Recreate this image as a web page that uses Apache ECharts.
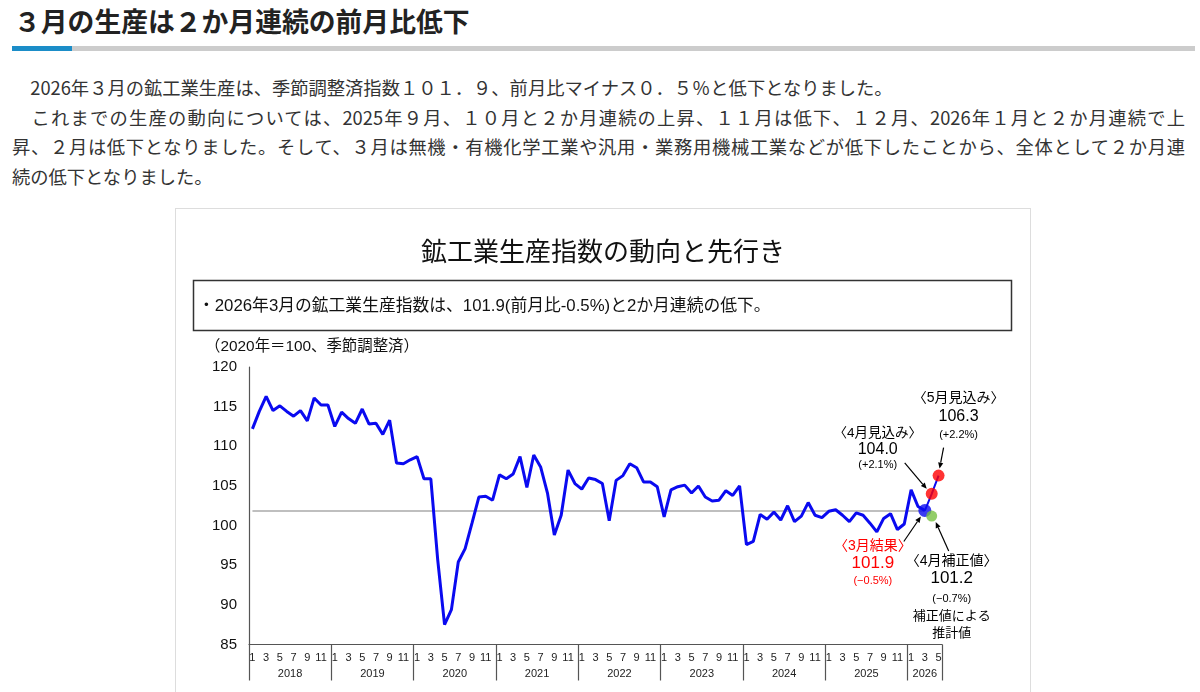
<!DOCTYPE html>
<html lang="ja">
<head>
<meta charset="utf-8">
<script src="https://cdn.jsdelivr.net/npm/echarts@6/dist/echarts.min.js"></script>
<style>
  body { margin:0; background:#fff; font-family:"Noto Sans CJK JP", sans-serif; }
  .ttl { position:absolute; left:14px; top:6px; margin:0; font-size:26.8px; line-height:30px; font-weight:bold; color:#222; }
  .bar { position:absolute; left:12px; top:46px; width:1183px; height:5px; background:#cccccc; }
  .bar i { position:absolute; left:0; top:0; width:60px; height:5px; background:#1b8dc8; }
  .txt { position:absolute; left:12px; top:73px; width:1173px; font-size:18.3px; line-height:29.5px; color:#333; }
  .txt div { white-space:nowrap; }
  .txt .j { text-align:justify; text-align-last:justify; white-space:normal; }
  .box { position:absolute; left:175px; top:208px; width:854px; height:520px; border:1px solid #dddddd; }
  #clientpic { position:absolute; left:0; top:0; width:1200px; height:692px; }
</style>
</head>
<body>
<h2 class="ttl">３月の生産は２か月連続の前月比低下</h2>
<div class="bar"><i></i></div>
<div class="txt">
  <div>　2026年３月の鉱工業生産は、季節調整済指数１０１．９、前月比マイナス０．５％と低下となりました。</div>
  <div class="j">　これまでの生産の動向については、2025年９月、１０月と２か月連続の上昇、１１月は低下、１２月、2026年１月と２か月連続で上</div>
  <div class="j">昇、２月は低下となりました。そして、３月は無機・有機化学工業や汎用・業務用機械工業などが低下したことから、全体として２か月連</div>
  <div>続の低下となりました。</div>
</div>
<div class="box"></div>
<div id="clientpic"></div>
<script type="text/javascript">
// 鉱工業生産指数（2020年=100、季節調整済）
var years = [2018, 2019, 2020, 2021, 2022, 2023, 2024, 2025, 2026];
var monthsInYear = [12, 12, 12, 12, 12, 12, 12, 12, 5];
var iip = [
  112.2, 114.4, 116.3, 114.5, 115.1, 114.4, 113.8, 114.5, 113.2, 116.1, 115.2, 115.2,
  112.5, 114.3, 113.5, 112.9, 114.7, 112.8, 112.9, 111.5, 113.3, 107.9, 107.8, 108.3,
  108.7, 105.9, 105.9, 95.7, 87.5, 89.4, 95.4, 97.1, 100.3, 103.6, 103.7, 103.2,
  106.4, 105.9, 106.5, 108.7, 104.8, 108.9, 107.4, 104.1, 98.8, 101.3, 107.0, 105.3,
  104.6, 106.0, 105.8, 105.3, 100.6, 105.7, 106.3, 107.8, 107.3, 105.5, 105.5, 104.9,
  101.1, 104.5, 104.9, 105.1, 104.1, 105.0, 103.6, 103.1, 103.2, 104.4, 103.8, 105.0,
  97.6, 98.0, 101.4, 100.8, 101.7, 100.7, 102.5, 100.5, 101.2, 102.9, 101.3, 101.0,
  101.8, 102.0, 101.3, 100.5, 101.6, 101.3, 100.3, 99.2, 100.9, 101.5, 99.5, 100.2,
  104.5, 102.4, 101.9
];
var marResult = 101.9;        // 3月結果
var aprForecast = 104.0;      // 4月見込み
var mayForecast = 106.3;      // 5月見込み
var aprCorrected = 101.2;     // 4月補正値
var yTicks = [85, 90, 95, 100, 105, 110, 115, 120];

// categories: "2018-1" ... "2026-5"
var cats = [];
years.forEach(function (y, k) {
  for (var m = 1; m <= monthsInYear[k]; m++) cats.push(y + '-' + m);
});
var iMar = iip.length - 1, iApr = iMar + 1, iMay = iMar + 2;

var forecastLine = cats.map(function (c, i) {
  if (i === iMar) return marResult;
  if (i === iApr) return aprForecast;
  if (i === iMay) return mayForecast;
  return null;
});

// label index for each year (middle of the year span)
var yearLabelIdx = {};
var start = 0;
monthsInYear.forEach(function (n) {
  yearLabelIdx[start + Math.floor(n / 2)] = (n % 2 === 0) ? 'a' : 'b';
  start += n;
});

var FONT = "'Liberation Sans', 'Noto Sans CJK JP', sans-serif";
var myChart = echarts.init(document.getElementById('clientpic'));
var option = {
  animation: false,
  textStyle: { fontFamily: FONT },
  grid: { left: 249, top: 367, width: 693, height: 277.5 },
  xAxis: [{
    type: 'category',
    data: cats,
    boundaryGap: true,
    axisLine: { lineStyle: { color: '#555', width: 1.2 } },
    axisTick: {
      show: true, length: 36, alignWithLabel: false,
      interval: function (i) { return i % 12 === 0; },
      lineStyle: { color: '#555', width: 1.2 }
    },
    axisLabel: {
      interval: function (i) { return i % 2 === 0; },
      formatter: function (v) { return v.split('-')[1]; },
      fontSize: 11, color: '#222', margin: 8, fontFamily: FONT
    },
    splitLine: { show: false }
  }, {
    type: 'category',
    data: cats,
    position: 'bottom',
    offset: 0,
    gridIndex: 0,
    boundaryGap: true,
    axisLine: { show: false },
    axisTick: { show: false },
    axisLabel: {
      interval: function (i) { return yearLabelIdx[i] !== undefined; },
      formatter: function (v, i) {
        var y = v.split('-')[0];
        return '{' + (yearLabelIdx[i] || 'b') + '|' + y + '}';
      },
      margin: 24,
      rich: {
        a: { fontSize: 11, color: '#222', padding: [0, 7, 0, 0], fontFamily: FONT },
        b: { fontSize: 11, color: '#222', fontFamily: FONT }
      }
    }
  }],
  yAxis: {
    type: 'value',
    min: yTicks[0], max: yTicks[yTicks.length - 1], interval: 5,
    axisLine: { show: true, lineStyle: { color: '#555', width: 1.2 } },
    axisTick: { show: false },
    splitLine: { show: false },
    axisLabel: { fontSize: 15, color: '#111', margin: 12, fontFamily: FONT }
  },
  series: [{
    name: '鉱工業生産指数',
    type: 'line',
    data: iip,
    symbol: 'none',
    lineStyle: { color: '#0a0af0', width: 3 },
    z: 3,
    markLine: {
      silent: true,
      symbol: ['none', 'none'],
      label: { show: false },
      lineStyle: { color: '#aaaaaa', width: 1.5, type: 'solid' },
      data: [[{ coord: [0, marResult] }, { coord: [iMar, marResult] }]],
      z: 1
    }
  }, {
    name: '見込み',
    type: 'line',
    data: forecastLine,
    symbol: 'none',
    lineStyle: { color: '#0a0af0', width: 2 },
    z: 3
  }, {
    type: 'scatter', data: [[iMar, marResult]], symbolSize: 13,
    itemStyle: { color: '#0a0af0' }, z: 5
  }, {
    type: 'scatter', data: [[iApr, aprForecast], [iMay, mayForecast]], symbolSize: 12,
    itemStyle: { color: '#ff0000' }, z: 5
  }, {
    type: 'scatter', data: [[iApr, aprCorrected]], symbolSize: 11,
    itemStyle: { color: '#78c044' }, z: 5
  }]
};
myChart.setOption(option);

// annotations around the latest points
function px(i, v) { return myChart.convertToPixel({ gridIndex: 0 }, [i, v]); }
function arrow(x1, y1, x2, y2) {
  var a = Math.atan2(y2 - y1, x2 - x1), L = 6, W = 2.6;
  var bx = x2 - L * Math.cos(a), by = y2 - L * Math.sin(a);
  return [
    { type: 'line', z: 100, shape: { x1: x1, y1: y1, x2: bx, y2: by }, style: { stroke: '#000', lineWidth: 1.2 } },
    { type: 'polygon', z: 100, shape: { points: [[x2, y2], [bx + W * Math.sin(a), by - W * Math.cos(a)], [bx - W * Math.sin(a), by + W * Math.cos(a)]] }, style: { fill: '#000' } }
  ];
}
function txt(x, y, s, size, color) {
  return { type: 'text', z: 100, x: x, y: y, style: { text: s, fontSize: size, fill: color || '#000', fontFamily: FONT, align: 'center', verticalAlign: 'middle' } };
}
var notes = [
  { at: [iApr, aprForecast], dx: -54, lines: [['〈4月見込み〉', -61, 13.5], [aprForecast.toFixed(1), -44, 16], ['(+2.1%)', -29, 11]], arr: [-27, -31, -5, -5] },
  { at: [iMay, mayForecast], dx: 20, lines: [['〈5月見込み〉', -77, 14], [mayForecast.toFixed(1), -59, 16], ['(+2.2%)', -41, 11]], arr: [5, -28, 1, -7] },
  { at: [iMar, marResult], dx: -52, color: '#ff0000', lines: [['〈3月結果〉', 36, 14], [marResult.toFixed(1), 53, 17], ['(−0.5%)', 70, 11]], arr: [-21, 31, -4, 6] },
  { at: [iApr, aprCorrected], dx: 20, lines: [['〈4月補正値〉', 45, 14], [aprCorrected.toFixed(1), 62, 17], ['(−0.7%)', 83, 11], ['補正値による', 100, 13], ['推計値', 117, 13]], arr: [17, 35, 4, 6] }
];
var g = [];
notes.forEach(function (n) {
  var p = px(n.at[0], n.at[1]);
  n.lines.forEach(function (l) { g.push(txt(p[0] + n.dx, p[1] + l[1], l[0], l[2], n.color)); });
  g = g.concat(arrow(p[0] + n.arr[0], p[1] + n.arr[1], p[0] + n.arr[2], p[1] + n.arr[3]));
});
// chart title, summary box, unit note
g.push({ type: 'text', z: 100, x: 603, y: 254, style: { text: '鉱工業生産指数の動向と先行き', fontSize: 26, fill: '#111', fontFamily: FONT, align: 'center', verticalAlign: 'middle' } });
g.push({ type: 'rect', z: 100, shape: { x: 193.5, y: 280.5, width: 818, height: 50 }, style: { fill: 'none', stroke: '#333', lineWidth: 1.5 } });
g.push({ type: 'text', z: 100, x: 198, y: 306, style: { text: '・2026年3月の鉱工業生産指数は、101.9(前月比-0.5%)と2か月連続の低下。', fontSize: 16.8, fill: '#111', fontFamily: FONT, align: 'left', verticalAlign: 'middle' } });
g.push({ type: 'text', z: 100, x: 205, y: 347, style: { text: '（2020年＝100、季節調整済）', fontSize: 15.4, fill: '#111', fontFamily: FONT, align: 'left', verticalAlign: 'middle' } });
myChart.setOption({ graphic: g });
</script>
</body>
</html>
